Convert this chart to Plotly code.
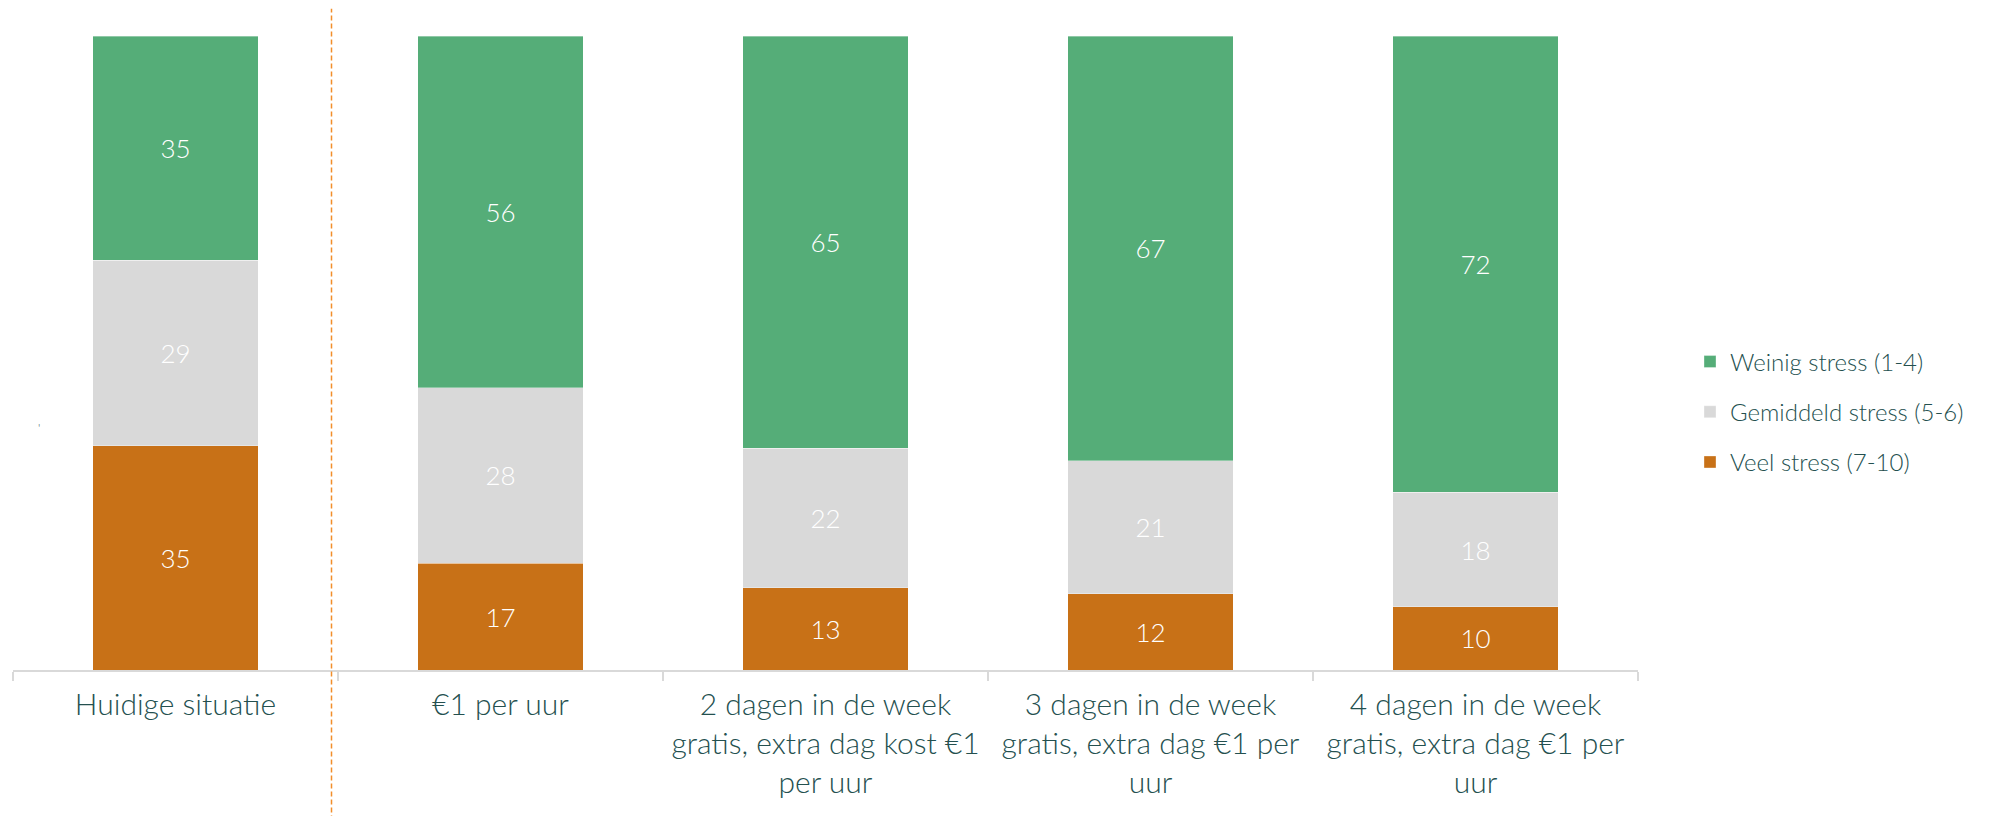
import plotly.graph_objects as go

categories = [
    "Huidige situatie",
    "€1 per uur",
    "2 dagen in de week<br>gratis, extra dag kost €1<br>per uur",
    "3 dagen in de week<br>gratis, extra dag €1 per<br>uur",
    "4 dagen in de week<br>gratis, extra dag €1 per<br>uur",
]
veel = [35, 17, 13, 12, 10]
gemiddeld = [29, 28, 22, 21, 18]
weinig = [35, 56, 65, 67, 72]

series = [
    ("Veel stress (7-10)", veel, "#C87117", 3),
    ("Gemiddeld stress (5-6)", gemiddeld, "#D9D9D9", 2),
    ("Weinig stress (1-4)", weinig, "#55AD78", 1),
]

FONT = "Lato"
TEXT_COLOR = "#24504F"

fig = go.Figure()
for name, vals, color, rank in series:
    fig.add_trace(go.Bar(
        x=categories,
        y=vals,
        name=name,
        legendgroup=name,
        legendrank=rank,
        marker=dict(color=color, line=dict(color="rgba(255,255,255,0.35)", width=1)),
        text=[str(v) for v in vals],
        textposition="inside",
        insidetextanchor="middle",
        textangle=0,
        textfont=dict(color="white", size=26, family=FONT, weight=300),
        hoverinfo="skip",
    ))

# page body has an 8px margin: compensate so the plot lands where the reference has it
fig.update_layout(
    barmode="stack",
    barnorm="percent",
    bargap=0.49,
    width=2015,
    height=816,
    margin=dict(l=5, r=385, t=28, b=154, autoexpand=False),
    plot_bgcolor="white",
    paper_bgcolor="white",
    font=dict(family=FONT, color=TEXT_COLOR, size=24, weight=300),
    showlegend=True,
    legend=dict(
        x=1.032, xanchor="left",
        y=0.407, yanchor="middle",
        traceorder="grouped",
        tracegroupgap=16,
        font=dict(size=24, color=TEXT_COLOR, family=FONT, weight=300),
        bgcolor="rgba(0,0,0,0)",
    ),
)

fig.update_xaxes(
    type="category",
    categoryorder="array",
    categoryarray=categories,
    range=[-0.5, len(categories) - 0.5],
    showline=True,
    linecolor="#D9D9D9",
    linewidth=2,
    ticks="outside",
    tickson="boundaries",
    ticklen=9,
    tickcolor="#D9D9D9",
    tickwidth=2,
    showgrid=False,
    zeroline=False,
    tickfont=dict(size=30, color=TEXT_COLOR, family=FONT, weight=300),
    ticklabelstandoff=7,
)
fig.update_yaxes(range=[0, 100], visible=False)

# dashed separator between current situation and scenarios
fig.add_shape(
    type="line", xref="x", yref="paper",
    x0=0.48, x1=0.48, y0=-0.25, y1=1.043,
    line=dict(color="#F28E2B", width=1.5, dash="5px,3px"),
)

# tiny stray mark at left (empty axis title remnant)
fig.add_annotation(
    xref="paper", yref="paper", x=0.014, y=0.382,
    text="'", showarrow=False, font=dict(size=12, color=TEXT_COLOR, family=FONT),
)

fig.write_html("out.html")
